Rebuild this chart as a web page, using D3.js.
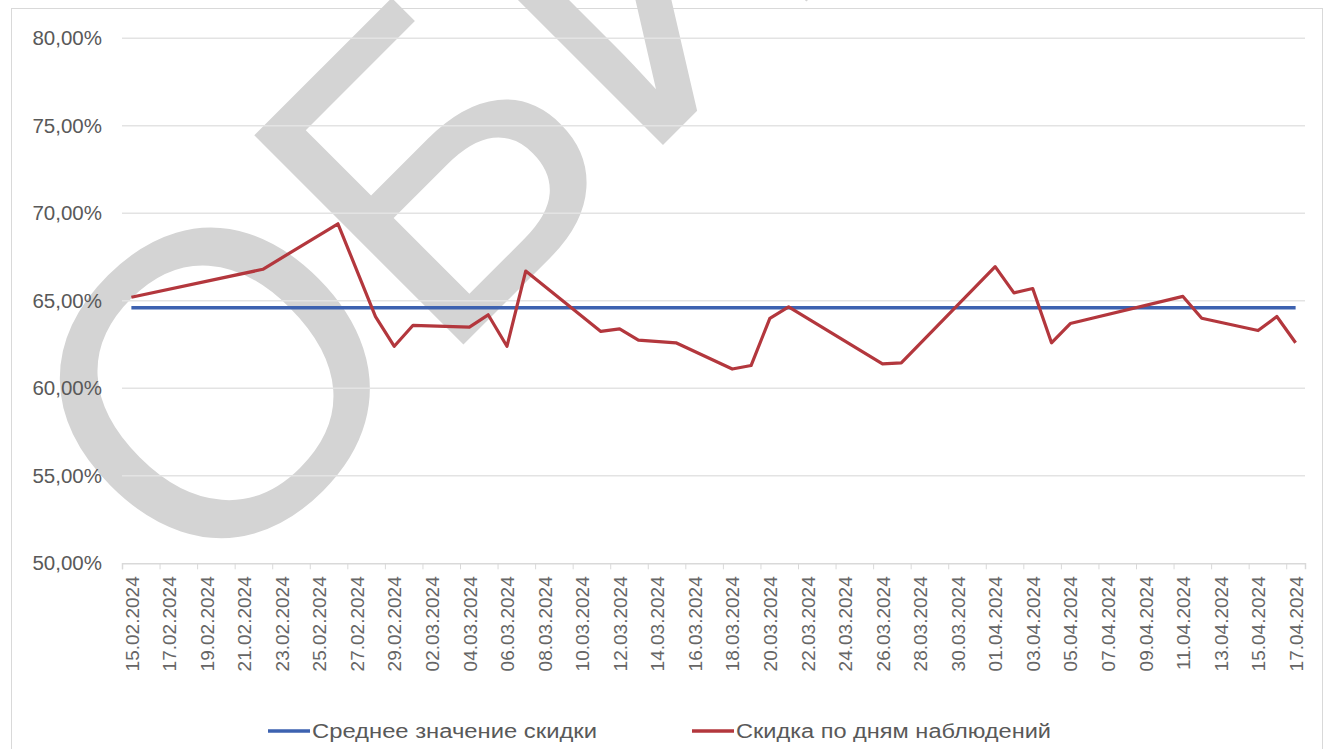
<!DOCTYPE html>
<html>
<head>
<meta charset="utf-8">
<script src="https://cdn.jsdelivr.net/npm/d3@7"></script>
<style>
  body { margin: 0; background: #fff; }
  svg { display: block; font-family: "Liberation Sans", Arial, sans-serif; }
</style>
</head>
<body>
<div id="chart"></div>
<script>
// Observation days and discount values (%)
const obsDates = ['15.02.2024','22.02.2024','26.02.2024','28.02.2024','29.02.2024','01.03.2024',
  '04.03.2024','05.03.2024','06.03.2024','07.03.2024','11.03.2024','12.03.2024','13.03.2024',
  '15.03.2024','18.03.2024','19.03.2024','20.03.2024','21.03.2024','26.03.2024','27.03.2024',
  '01.04.2024','02.04.2024','03.04.2024','04.04.2024','05.04.2024','11.04.2024','12.04.2024',
  '15.04.2024','16.04.2024','17.04.2024'];
const discountValues = [65.2, 66.8, 69.4, 64.1, 62.4, 63.6,
  63.5, 64.2, 62.4, 66.7, 63.25, 63.4, 62.75,
  62.6, 61.1, 61.3, 64.0, 64.65, 61.4, 61.45,
  66.95, 65.45, 65.7, 62.6, 63.7, 65.25, 64.0,
  63.3, 64.1, 62.6];
const averageValue = 64.6;
const yTicks = [50, 55, 60, 65, 70, 75, 80];
const seriesNames = ['Среднее значение скидки', 'Скидка по дням наблюдений'];
const watermarkText = 'ОБИ';

const svgWidth = 1326;
const svgHeight = 749;
const plot = { left: 122, right: 1305, top: 38.3, bottom: 563.3 };

const parseDate = d3.timeParse('%d.%m.%Y');
const fmtDate = d3.timeFormat('%d.%m.%Y');
const halfDay = 12 * 3600 * 1000;

const data = obsDates.map((d, i) => ({ date: parseDate(d), value: discountValues[i] }));
const firstDay = data[0].date;
const lastDay = data[data.length - 1].date;

const svg = d3.select('#chart').append('svg')
  .attr('width', svgWidth)
  .attr('height', svgHeight);

// chart frame
svg.append('rect')
  .attr('x', 11.5).attr('y', 8.5)
  .attr('width', 1311).attr('height', 760)
  .attr('fill', '#fff')
  .attr('stroke', '#d9d9d9');

const xScale = d3.scaleTime()
  .domain([new Date(+firstDay - halfDay), new Date(+lastDay + halfDay)])
  .range([plot.left, plot.right]);

const yScale = d3.scaleLinear()
  .domain([50, 80])
  .range([plot.bottom, plot.top]);

// watermark stamp
svg.append('text')
  .text(watermarkText)
  .attr('transform', 'translate(202,606) rotate(-45)')
  .attr('font-size', 430)
  .attr('fill', '#d4d4d4');

// gridlines
svg.append('g')
  .selectAll('line')
  .data(yTicks.slice(1))
  .join('line')
  .attr('x1', plot.left).attr('x2', plot.right)
  .attr('y1', d => yScale(d)).attr('y2', d => yScale(d))
  .attr('stroke', '#e3e3e3')
  .attr('stroke-width', 1.5);

// y axis labels
const yAxis = d3.axisLeft(yScale)
  .tickValues(yTicks)
  .tickSize(0)
  .tickPadding(0)
  .tickFormat(d => d.toFixed(2).replace('.', ',') + '%');
svg.append('g')
  .attr('transform', 'translate(102,0)')
  .call(yAxis)
  .call(g => g.select('.domain').remove())
  .selectAll('text')
  .attr('font-size', 20.5)
  .attr('font-family', '"Liberation Sans", Arial, sans-serif')
  .attr('fill', '#595959');

// x axis: tick marks between days, labels every 2 days
const labelDays = d3.timeDay.range(firstDay, d3.timeDay.offset(lastDay, 1), 2);
const tickMarks = labelDays.map(d => new Date(+d - halfDay));

svg.append('g')
  .attr('transform', `translate(0,${plot.bottom})`)
  .call(d3.axisBottom(xScale).tickValues(tickMarks).tickSize(6).tickFormat(''))
  .call(g => g.select('.domain').attr('stroke', '#d9d9d9').attr('stroke-width', 1.5))
  .call(g => g.selectAll('.tick line').attr('stroke', '#d9d9d9'));

svg.append('g')
  .attr('transform', `translate(0,${plot.bottom})`)
  .call(d3.axisBottom(xScale).tickValues(labelDays).tickSize(0).tickFormat(fmtDate))
  .call(g => g.select('.domain').remove())
  .selectAll('text')
  .attr('font-size', 19)
  .attr('font-family', '"Liberation Sans", Arial, sans-serif')
  .attr('fill', '#666')
  .attr('text-anchor', 'end')
  .attr('dy', '0.35em')
  .attr('transform', 'translate(0,13) rotate(-90)')
  .attr('x', 0)
  .attr('y', 0);

// average line
const lineGen = d3.line()
  .x(d => xScale(d.date))
  .y(d => yScale(d.value));

svg.append('path')
  .datum([{ date: firstDay, value: averageValue }, { date: lastDay, value: averageValue }])
  .attr('d', lineGen)
  .attr('fill', 'none')
  .attr('stroke', '#3d62b0')
  .attr('stroke-width', 3.5);

// daily discount line
svg.append('path')
  .datum(data)
  .attr('d', lineGen)
  .attr('fill', 'none')
  .attr('stroke', '#b3373d')
  .attr('stroke-width', 3.2)
  .attr('stroke-linejoin', 'round');

// legend
const legendItems = [
  { name: seriesNames[0], color: '#3d62b0', x: 268, width: 285 },
  { name: seriesNames[1], color: '#b3373d', x: 692, width: 315 }
];
const legend = svg.append('g');
legendItems.forEach(item => {
  legend.append('line')
    .attr('x1', item.x).attr('x2', item.x + 42)
    .attr('y1', 731).attr('y2', 731)
    .attr('stroke', item.color)
    .attr('stroke-width', 3.5);
  legend.append('text')
    .text(item.name)
    .attr('x', item.x + 44)
    .attr('y', 731)
    .attr('dy', '0.35em')
    .attr('font-size', 20)
    .attr('fill', '#595959')
    .attr('textLength', item.width)
    .attr('lengthAdjust', 'spacingAndGlyphs');
});
</script>
</body>
</html>
